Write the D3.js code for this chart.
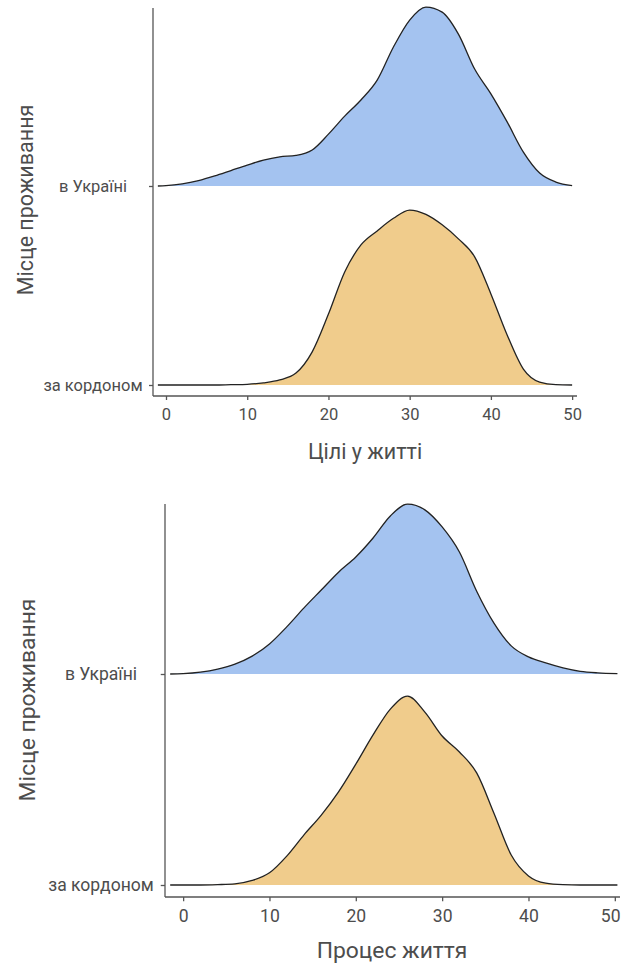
<!DOCTYPE html>
<html><head><meta charset="utf-8">
<script src="https://cdn.jsdelivr.net/npm/d3@7/dist/d3.min.js"></script>
<style>body{margin:0;background:#fff}svg{display:block}</style>
</head><body><svg id="c" width="621" height="964"></svg>
<script>
// ---- data ----
const categories = ["в Україні", "за кордоном"];
const xTicks = [0, 10, 20, 30, 40, 50];
const yTitle = "Місце проживання";

const goalsTitle = "Цілі у житті";
const goalsX = [-1, 0, 2, 4, 6, 8, 10, 12, 14, 16, 18, 20, 22, 24, 26, 28, 30, 32, 34, 36, 38, 40, 42, 44, 46, 48, 50];
const goalsUkraine = [0, 0.0001, 0.0006, 0.0015, 0.0028, 0.0043, 0.0058, 0.0072, 0.0081, 0.0085, 0.0100, 0.0144, 0.0194, 0.0239, 0.0294, 0.0386, 0.0461, 0.0497, 0.0483, 0.0422, 0.0325, 0.0256, 0.0178, 0.0094, 0.0036, 0.0011, 0.0001];
const goalsAbroad = [0, 0, 0, 0, 0, 0.0001, 0.0002, 0.0006, 0.0014, 0.0033, 0.0092, 0.0197, 0.0314, 0.0389, 0.0428, 0.0463, 0.0486, 0.0474, 0.0445, 0.0406, 0.0356, 0.0253, 0.0139, 0.0044, 0.0008, 0.0001, 0];

const processTitle = "Процес життя";
const processX = [-1.5, 0, 2, 4, 6, 8, 10, 12, 14, 16, 18, 20, 22, 24, 26, 28, 30, 32, 34, 36, 38, 40, 42, 44, 46, 48, 50.3];
const processUkraine = [0, 0.0001, 0.0005, 0.0013, 0.0026, 0.0047, 0.0079, 0.0124, 0.0174, 0.0221, 0.0268, 0.0308, 0.0358, 0.0416, 0.0447, 0.0432, 0.0387, 0.0321, 0.0218, 0.0134, 0.0074, 0.0045, 0.0029, 0.0016, 0.0007, 0.0003, 0.0001];
const processAbroad = [0, 0, 0, 0.0001, 0.0003, 0.0012, 0.0032, 0.0076, 0.0132, 0.0184, 0.0245, 0.0318, 0.0395, 0.0463, 0.0497, 0.0455, 0.0392, 0.0350, 0.0295, 0.0189, 0.0079, 0.0024, 0.0005, 0.0001, 0, 0, 0];

const fills = {"в Україні": "#A4C3F0", "за кордоном": "#F0CC8C"};

// ---- drawing ----
const svg = d3.select("#c");
const FONT = "Roboto, sans-serif";
const W = 621;

function panel(o) {
  const g = svg.append("g");
  const x = d3.scaleLinear().domain(o.xDomain).range([o.left, o.right]);
  const y = d3.scalePoint().domain(categories).range([o.rowTop, o.rowBottom]);
  const h = d3.scaleLinear().domain([0, 0.05]).range([0, o.ridgePx]);
  const k = o.k;

  o.series.forEach(s => {
    const pts = o.xs.map((v, i) => [v, s.values[i]]);
    const base = y(s.cat);
    const area = d3.area().x(d => x(d[0])).y0(base).y1(d => base - h(d[1])).curve(d3.curveMonotoneX);
    const line = d3.line().x(d => x(d[0])).y(d => base - h(d[1])).curve(d3.curveMonotoneX);
    g.append("path").attr("d", area(pts)).attr("fill", fills[s.cat]).attr("stroke", "none");
    g.append("path").attr("d", line(pts)).attr("fill", "none").attr("stroke", "#222").attr("stroke-width", 1.3);
  });

  // x axis
  const xa = g.append("g").attr("transform", `translate(0,${o.axisY})`)
    .call(d3.axisBottom(x).tickValues(xTicks).tickSize(4 * k).tickPadding(8 * k).tickSizeOuter(0));
  xa.select(".domain").attr("stroke", "#555").attr("stroke-width", 1.3)
    .attr("d", `M${o.left},0H${o.right}`);
  xa.selectAll(".tick line").attr("stroke", "#555").attr("stroke-width", 1.3);
  xa.selectAll(".tick text").attr("fill", "#4d4d4d").style("font-family", FONT)
    .style("font-size", (16.5 * k) + "px")
    .each(function(d) {
      // keep a label inside the picture if it would run past the right edge
      const bb = this.getBBox();
      const right = x(d) + bb.x + bb.width;
      if (right > W - 1) d3.select(this).attr("dx", (W - 1 - right));
    });

  // y axis
  const ya = g.append("g").attr("transform", `translate(${o.left},0)`)
    .call(d3.axisLeft(y).tickSize(4 * k).tickPadding(0).tickSizeOuter(0));
  ya.select(".domain").attr("stroke", "#555").attr("stroke-width", 1.3)
    .attr("d", `M0,${o.axisTop}V${o.axisY}`);
  ya.selectAll(".tick line").attr("stroke", "#555").attr("stroke-width", 1.3);
  ya.selectAll(".tick text").attr("fill", "#4d4d4d").style("font-family", FONT)
    .style("font-size", (16.5 * k) + "px").attr("text-anchor", "middle")
    .attr("x", o.labelCx - o.left);

  // titles
  g.append("text").attr("x", o.xTitleX).attr("y", o.xTitleY).attr("text-anchor", "middle")
    .attr("fill", "#4d4d4d").style("font-family", FONT).style("font-size", (21.5 * k) + "px")
    .text(o.xTitle);
  g.append("text").attr("transform", `translate(${o.yTitleX},${o.yTitleY}) rotate(-90)`)
    .attr("text-anchor", "middle").attr("fill", "#4d4d4d")
    .style("font-family", FONT).style("font-size", (21.5 * k) + "px")
    .text(yTitle);
}

panel({
  k: 1, xDomain: [-1.6, 50.6], left: 153, right: 577,
  rowTop: 186, rowBottom: 385, ridgePx: 180, axisTop: 8, axisY: 396,
  labelCx: 93, xTitle: goalsTitle, xTitleX: 365, xTitleY: 459, yTitleX: 33, yTitleY: 200,
  xs: goalsX,
  series: [{cat: "в Україні", values: goalsUkraine}, {cat: "за кордоном", values: goalsAbroad}]
});

panel({
  k: 1.064, xDomain: [-2.1, 50.6], left: 165, right: 620,
  rowTop: 674, rowBottom: 885, ridgePx: 190, axisTop: 504, axisY: 897,
  labelCx: 101, xTitle: processTitle, xTitleX: 392, xTitleY: 958, yTitleX: 35, yTitleY: 700,
  xs: processX,
  series: [{cat: "в Україні", values: processUkraine}, {cat: "за кордоном", values: processAbroad}]
});
</script></body></html>
